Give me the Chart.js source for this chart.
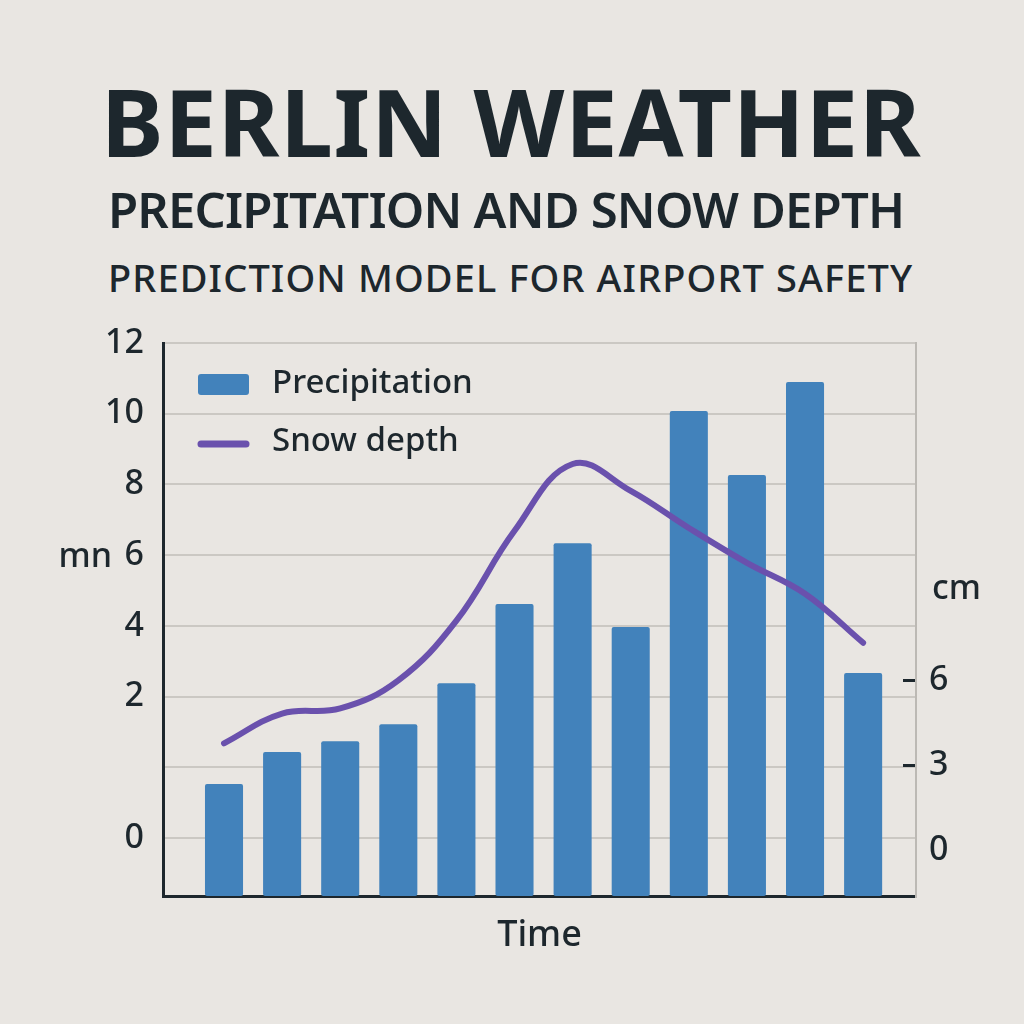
<!DOCTYPE html>
<html>
<head>
<meta charset="utf-8">
<script src="https://cdn.jsdelivr.net/npm/chart.js@4.4.1/dist/chart.umd.min.js"></script>
<style>
html,body{margin:0;padding:0;background:#e9e6e2;}
#wrap{position:relative;width:1024px;height:1024px;overflow:hidden;background:#e9e6e2;}
canvas{position:absolute;left:0;top:0;}
.t{position:absolute;margin:0;white-space:nowrap;color:#1d272d;font-family:'Noto Sans',sans-serif;line-height:1;}
</style>
</head>
<body>
<div id="wrap">
<h1 class="t" id="t1">BERLIN WEATHER</h1>
<h2 class="t" id="t2">PRECIPITATION AND SNOW DEPTH</h2>
<h3 class="t" id="t3">PREDICTION MODEL FOR AIRPORT SAFETY</h3>
<canvas id="c" width="1024" height="1024"></canvas>
</div>
<script>
// ---- data ----
const categories = ['1','2','3','4','5','6','7','8','9','10','11','12'];
const precipitation = [1.53, 2.43, 2.74, 3.22, 4.38, 6.62, 8.34, 5.97, 12.08, 10.27, 12.90, 4.67];
const snowDepth = [3.77, 4.82, 5.00, 5.99, 8.10, 11.27, 13.63, 12.68, 11.37, 10.14, 9.05, 7.32];
const leftTickValues = [0, 2, 4, 6, 8, 10, 12, 14];
const leftTickLabels = ['0', '', '2', '4', '6', '8', '10', '12'];
const rightTickValues = [0, 3, 6];
const rightTickLabels = ['0', '3', '6'];
const seriesNames = ['Precipitation', 'Snow depth'];
const leftUnit = 'mn';
const rightUnit = 'cm';
const xTitle = 'Time';

// ---- style ----
const TEXT = '#1d272d';
const BAR = '#4282bb';
const LINE = '#6a51ad';
const GRID = '#cbc8c3';
const FONT = "'Noto Sans', sans-serif";
const Y_MIN = -1.64, Y_MAX = 14;
const Y2_MIN = -1.62, Y2_MAX = 17.9;

function placeTitle(id, size, weight, left, right, baseline) {
  const el = document.getElementById(id);
  el.style.fontSize = size + 'px';
  el.style.fontWeight = weight;
  const cv = document.createElement('canvas').getContext('2d');
  cv.font = weight + ' ' + size + 'px ' + FONT;
  const m = cv.measureText(el.textContent);
  const asc = m.fontBoundingBoxAscent, desc = m.fontBoundingBoxDescent;
  const off = (size - (asc + desc)) / 2 + asc;
  el.style.top = (baseline - off) + 'px';
  el.style.left = left + 'px';
  const ink = m.actualBoundingBoxRight + m.actualBoundingBoxLeft;
  const n = el.textContent.length;
  el.style.letterSpacing = ((right - left) - ink) / (n - 1) + 'px';
  el.style.marginLeft = (m.actualBoundingBoxLeft) + 'px';
}

const unitsPlugin = {
  id: 'units',
  afterDraw(chart) {
    const {ctx, scales: {y, y2}} = chart;
    ctx.save();
    ctx.font = '500 34px ' + FONT;
    ctx.fillStyle = TEXT;
    ctx.textBaseline = 'middle';
    ctx.textAlign = 'right';
    const sixValue = leftTickValues[leftTickLabels.indexOf('6')];
    ctx.fillText(leftUnit, y.right - 51, y.getPixelForValue(sixValue) + 2);
    ctx.textAlign = 'left';
    ctx.fillText(rightUnit, y2.left + 16, y2.getPixelForValue(6) - 91);
    ctx.restore();
  }
};

const legendPlugin = {
  id: 'innerLegend',
  afterDraw(chart) {
    const {ctx, chartArea: a} = chart;
    const ds = chart.data.datasets;
    const barDs = ds.find(d => d.type === 'bar');
    const lineDs = ds.find(d => d.type === 'line');
    const x0 = a.left + 35, w = 51, tx = a.left + 109;
    ctx.save();
    ctx.font = '500 33px ' + FONT;
    ctx.textBaseline = 'middle';
    ctx.textAlign = 'left';
    // bar item
    let yc = a.top + 41;
    ctx.fillStyle = barDs.backgroundColor;
    ctx.beginPath();
    ctx.roundRect(x0, yc - 10, w, 21, 3);
    ctx.fill();
    ctx.fillStyle = TEXT;
    ctx.fillText(barDs.label, tx, yc);
    // line item
    yc = a.top + 101;
    ctx.strokeStyle = lineDs.borderColor;
    ctx.lineWidth = 7;
    ctx.lineCap = 'round';
    ctx.beginPath();
    ctx.moveTo(x0 + 3, yc);
    ctx.lineTo(x0 + w - 3, yc);
    ctx.stroke();
    ctx.fillText(lineDs.label, tx, yc - 2);
    ctx.restore();
  }
};

function draw() {
  placeTitle('t1', 94, 700, 108, 921, 157);
  placeTitle('t2', 49, 600, 112, 901, 228);
  placeTitle('t3', 38, 500, 111, 913, 292);

  new Chart(document.getElementById('c'), {
    type: 'bar',
    data: {
      labels: categories,
      datasets: [
        {
          type: 'line',
          label: seriesNames[1],
          data: snowDepth.map((v, i) => ({x: i, y: v})),
          yAxisID: 'y2',
          borderColor: LINE,
          backgroundColor: LINE,
          borderWidth: 6,
          borderCapStyle: 'round',
          borderJoinStyle: 'round',
          tension: 0.4,
          pointRadius: 0,
          fill: false,
          order: 0
        },
        {
          type: 'bar',
          label: seriesNames[0],
          data: precipitation.map((v, i) => ({x: i, y: v})),
          yAxisID: 'y',
          backgroundColor: BAR,
          borderRadius: 2,
          borderSkipped: false,
          base: Y_MIN,
          categoryPercentage: 1,
          barPercentage: 0.655,
          order: 1
        }
      ]
    },
    options: {
      responsive: false,
      animation: false,
      layout: {padding: {top: 343, left: 0, right: 0, bottom: 0}},
      plugins: {legend: {display: false}, tooltip: {enabled: false}, title: {display: false}},
      scales: {
        x: {
          type: 'linear',
          min: -1.05,
          max: 11.91,
          offset: false,
          ticks: {display: false},
          grid: {display: true, drawOnChartArea: false, drawTicks: false},
          border: {display: true, color: TEXT, width: 3},
          title: {display: true, text: xTitle, color: TEXT, font: {family: FONT, size: 36, weight: 500}, padding: {top: 0, bottom: 67}},
          afterFit: s => { s.height = 128; }
        },
        y: {
          type: 'linear',
          position: 'left',
          min: Y_MIN,
          max: Y_MAX,
          afterBuildTicks: s => { s.ticks = leftTickValues.map(v => ({value: v})); },
          ticks: {
            color: TEXT,
            font: {family: FONT, size: 34, weight: 500},
            padding: 19,
            callback: v => { const i = leftTickValues.indexOf(v); return i >= 0 ? leftTickLabels[i] : ''; }
          },
          grid: {color: GRID, lineWidth: 2, drawTicks: false},
          border: {display: true, color: TEXT, width: 3},
          afterFit: s => { s.width = 163; }
        },
        y2: {
          type: 'linear',
          position: 'right',
          min: Y2_MIN,
          max: Y2_MAX,
          afterBuildTicks: s => { s.ticks = rightTickValues.map(v => ({value: v})); },
          ticks: {
            color: TEXT,
            font: {family: FONT, size: 34, weight: 500},
            padding: 26,
            callback: v => { const i = rightTickValues.indexOf(v); return i >= 0 ? rightTickLabels[i] : ''; }
          },
          grid: {
            drawOnChartArea: false,
            drawTicks: true,
            tickLength: -13,
            lineWidth: 3,
            color: c => (c.tick && c.tick.value === 0) ? 'rgba(0,0,0,0)' : TEXT
          },
          border: {display: true, color: '#bcb9b4', width: 2},
          afterFit: s => { s.width = 108; }
        }
      }
    },
    plugins: [legendPlugin, unitsPlugin]
  });
}

if (document.fonts && document.fonts.load) {
  Promise.all([
    document.fonts.load("700 94px 'Noto Sans'"),
    document.fonts.load("600 49px 'Noto Sans'"),
    document.fonts.load("500 38px 'Noto Sans'")
  ]).then(draw, draw);
} else { draw(); }
</script>
</body>
</html>
